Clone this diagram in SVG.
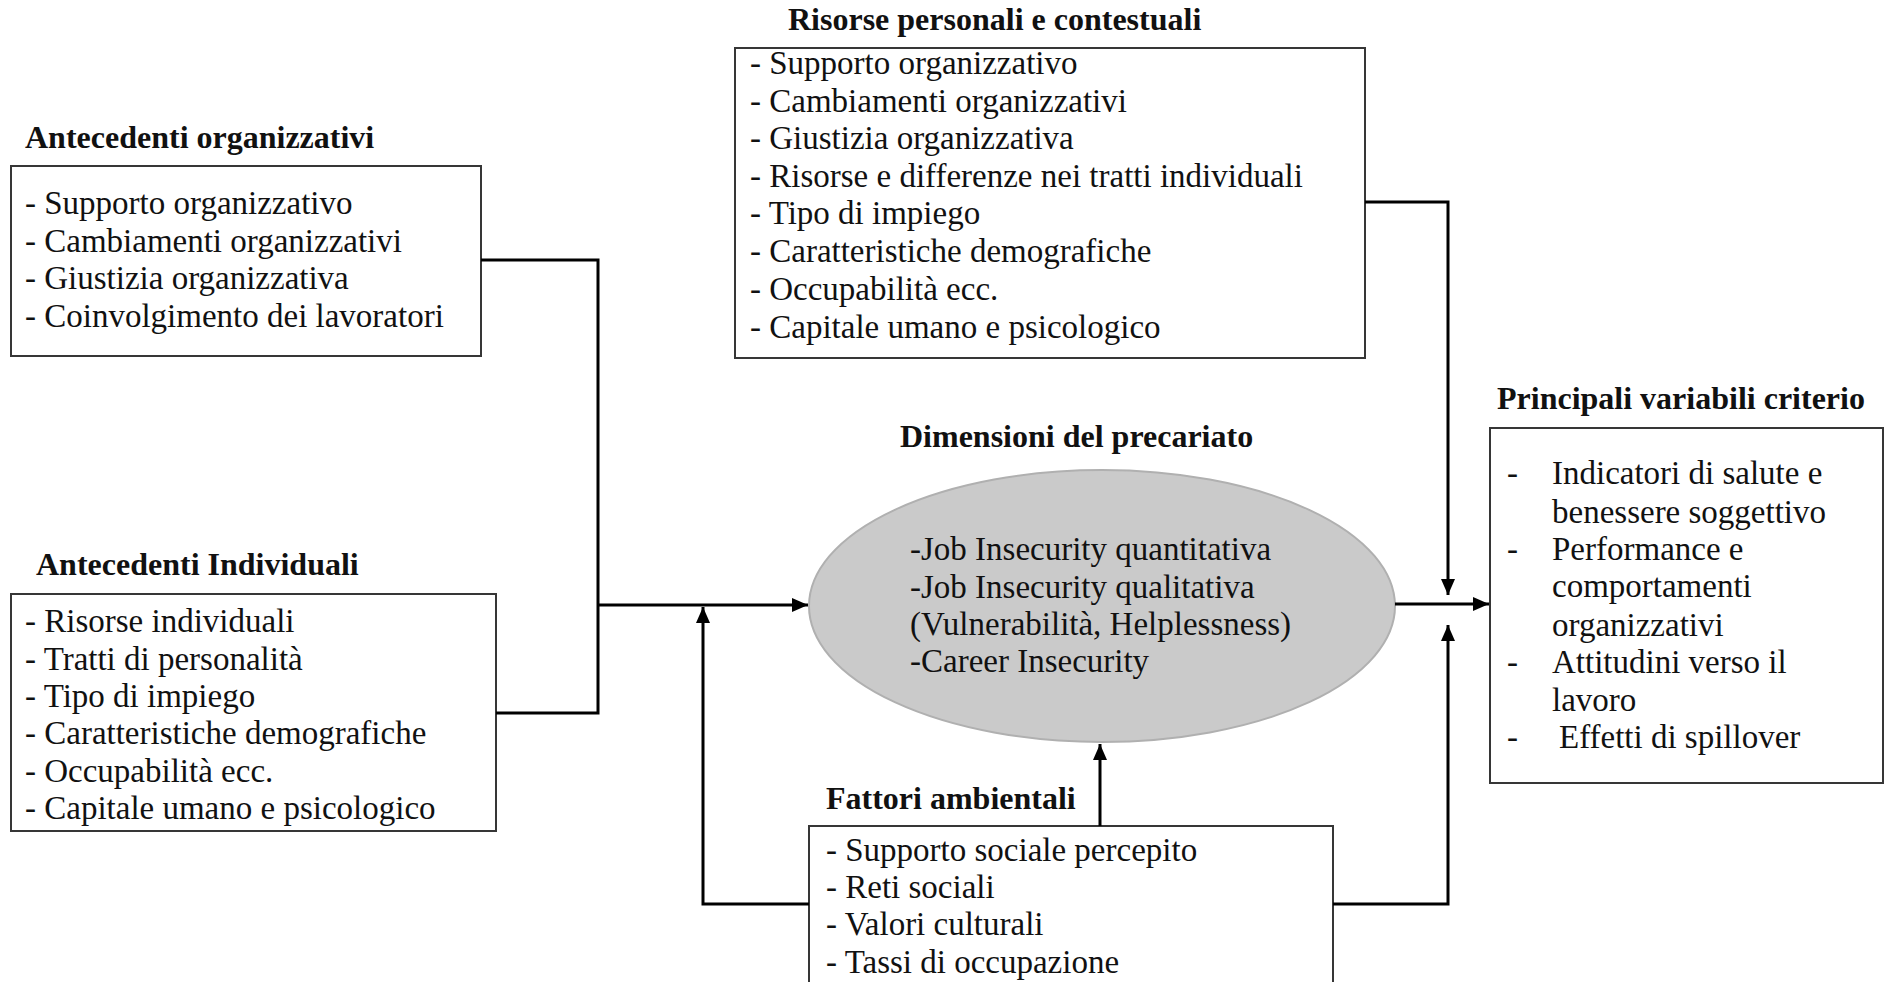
<svg xmlns="http://www.w3.org/2000/svg" width="1886" height="982" viewBox="0 0 1886 982">
  <style>
    .bg { fill: #ffffff; }
    .box { fill: #ffffff; stroke: #363636; stroke-width: 2; }
    .oval { fill: #cacaca; stroke: #b0b0b0; stroke-width: 2; }
    .t { font-family: "Liberation Serif", "Times New Roman", serif; font-size: 33px; fill: #111111; }
    .h { font-family: "Liberation Serif", "Times New Roman", serif; font-size: 32px; font-weight: bold; fill: #111111; }
    .wire { fill: none; stroke: #000000; stroke-width: 3; }
    .arrow { fill: none; stroke: #000000; stroke-width: 3; marker-end: url(#head); }
  </style>
  <defs>
    <marker id="head" markerUnits="userSpaceOnUse" markerWidth="18" markerHeight="16" refX="16" refY="8" orient="auto">
      <path d="M0,1 L16,8 L0,15 Z" fill="#000000"/>
    </marker>
  </defs>

  <rect class="bg" x="0" y="0" width="1886" height="982"/>

  <!-- Organisational antecedents -->
  <g id="antecedenti-organizzativi">
    <text class="h" x="25" y="148">Antecedenti organizzativi</text>
    <rect class="box" x="11" y="166" width="470" height="190"/>
    <text class="t" x="25" y="214">- Supporto organizzativo</text>
    <text class="t" x="25" y="252">- Cambiamenti organizzativi</text>
    <text class="t" x="25" y="289">- Giustizia organizzativa</text>
    <text class="t" x="25" y="327">- Coinvolgimento dei lavoratori</text>
  </g>

  <!-- Individual antecedents -->
  <g id="antecedenti-individuali">
    <text class="h" x="36" y="575">Antecedenti Individuali</text>
    <rect class="box" x="11" y="594" width="485" height="237"/>
    <text class="t" x="25" y="632">- Risorse individuali</text>
    <text class="t" x="25" y="670">- Tratti di personalità</text>
    <text class="t" x="25" y="707">- Tipo di impiego</text>
    <text class="t" x="25" y="744">- Caratteristiche demografiche</text>
    <text class="t" x="25" y="782">- Occupabilità ecc.</text>
    <text class="t" x="25" y="819">- Capitale umano e psicologico</text>
  </g>

  <!-- Personal and contextual resources -->
  <g id="risorse-personali-contestuali">
    <text class="h" x="788" y="30">Risorse personali e contestuali</text>
    <rect class="box" x="735" y="48" width="630" height="310"/>
    <text class="t" x="750" y="74">- Supporto organizzativo</text>
    <text class="t" x="750" y="112">- Cambiamenti organizzativi</text>
    <text class="t" x="750" y="149">- Giustizia organizzativa</text>
    <text class="t" x="750" y="187">- Risorse e differenze nei tratti individuali</text>
    <text class="t" x="750" y="224">- Tipo di impiego</text>
    <text class="t" x="750" y="262">- Caratteristiche demografiche</text>
    <text class="t" x="750" y="300">- Occupabilità ecc.</text>
    <text class="t" x="750" y="338">- Capitale umano e psicologico</text>
  </g>

  <!-- Dimensions of precariousness -->
  <g id="dimensioni-precariato">
    <text class="h" x="900" y="447">Dimensioni del precariato</text>
    <ellipse class="oval" cx="1102" cy="606" rx="293" ry="136"/>
    <text class="t" x="910" y="560">-Job Insecurity quantitativa</text>
    <text class="t" x="910" y="598">-Job Insecurity qualitativa</text>
    <text class="t" x="910" y="635">(Vulnerabilità, Helplessness)</text>
    <text class="t" x="910" y="672">-Career Insecurity</text>
  </g>

  <!-- Main criterion variables -->
  <g id="variabili-criterio">
    <text class="h" x="1497" y="409">Principali variabili criterio</text>
    <rect class="box" x="1490" y="428" width="393" height="355"/>
    <text class="t" x="1507" y="484">-</text>
    <text class="t" x="1552" y="484">Indicatori di salute e</text>
    <text class="t" x="1552" y="523">benessere soggettivo</text>
    <text class="t" x="1507" y="560">-</text>
    <text class="t" x="1552" y="560">Performance e</text>
    <text class="t" x="1552" y="597">comportamenti</text>
    <text class="t" x="1552" y="636">organizzativi</text>
    <text class="t" x="1507" y="673">-</text>
    <text class="t" x="1552" y="673">Attitudini verso il</text>
    <text class="t" x="1552" y="711">lavoro</text>
    <text class="t" x="1507" y="748">-</text>
    <text class="t" x="1559" y="748">Effetti di spillover</text>
  </g>

  <!-- Environmental factors (box runs past the lower edge) -->
  <g id="fattori-ambientali">
    <text class="h" x="826" y="809">Fattori ambientali</text>
    <rect class="box" x="809" y="826" width="524" height="170"/>
    <text class="t" x="826" y="861">- Supporto sociale percepito</text>
    <text class="t" x="826" y="898">- Reti sociali</text>
    <text class="t" x="826" y="935">- Valori culturali</text>
    <text class="t" x="826" y="973">- Tassi di occupazione</text>
  </g>

  <g id="connectors">
    <!-- antecedents merge into the central construct -->
    <polyline class="wire" points="481,260 598,260 598,713 496,713"/>
    <line class="arrow" x1="598" y1="605" x2="808" y2="605"/>
    <!-- environmental factors feed back on the antecedent path -->
    <polyline class="arrow" points="809,904 703,904 703,607"/>
    <!-- environmental factors into the ellipse -->
    <line class="arrow" x1="1100" y1="826" x2="1100" y2="744"/>
    <!-- ellipse to criterion variables -->
    <line class="arrow" x1="1395" y1="604" x2="1489" y2="604"/>
    <!-- resources moderate the outcome path -->
    <polyline class="arrow" points="1365,202 1448,202 1448,595"/>
    <!-- environmental factors moderate the outcome path -->
    <polyline class="arrow" points="1333,904 1448,904 1448,625"/>
  </g>
</svg>
